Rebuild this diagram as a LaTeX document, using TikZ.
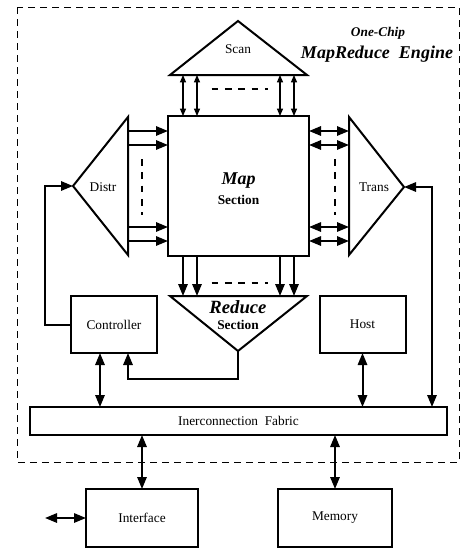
\documentclass[tikz,border=0pt]{standalone}
\usepackage{fontspec}
\setmainfont{Liberation Serif}
\usetikzlibrary{calc,arrows.meta}
\newcommand{\lineW}{1.5pt}
\newcommand{\bigBI}{\fontsize{13.5}{15}\selectfont\bfseries\itshape}

\begin{document}
\begin{tikzpicture}[x=0.75pt,y=-0.75pt,inner sep=0pt,outer sep=0pt,
		blk/.style={draw,line width=\lineW},
		bus/.style={line width=\lineW,-{Triangle[length=9pt,width=7pt]}},
		bus2/.style={line width=\lineW,{Triangle[length=9pt,width=7pt]}-{Triangle[length=9pt,width=7pt]}},
		thin2/.style={line width=0.8pt,{Triangle[length=5.5pt,width=4.5pt]}-{Triangle[length=5.5pt,width=4.5pt]}},
		gap/.style={line width=0.8pt,dash pattern=on 5pt off 5pt}]
	\useasboundingbox (0,0) rectangle (461,550);
	\draw[line width=0.7pt,dash pattern=on 5pt off 4pt] (17,7) rectangle (459,462);
	
	\node[font=\bfseries\itshape] (chip) at (378,33) {One-Chip};
	\node[font=\bigBI] (eng) at (377,54) {MapReduce~~Engine};
	
	% map section and the four triangles
	\node[blk,minimum width=105.75pt,minimum height=105pt] (map) at (238.5,186) {};
	\node[font=\bigBI] (mapL) at (238.5,181) {Map};
	\node[font=\bfseries] (mapS) at (238.5,200) {Section};
	
	\coordinate (scanL) at (170,75);
	\coordinate (scanR) at (307,75);
	\coordinate (scanA) at (238,21);
	\draw[blk,line join=miter] (scanL) -- (scanA) -- (scanR) -- cycle;
	\node (scan) at (238,49) {Scan};
	
	\coordinate (distrT) at (128,117);
	\coordinate (distrB) at (128,255);
	\coordinate (distrA) at (73,186);
	\draw[blk] (distrT) -- (distrA) -- (distrB) -- cycle;
	\node (distr) at (103,187) {Distr};
	
	\coordinate (transT) at (349,117);
	\coordinate (transB) at (349,255);
	\coordinate (transA) at (404,187);
	\draw[blk] (transT) -- (transA) -- (transB) -- cycle;
	\node (trans) at (374,187) {Trans};
	
	\coordinate (redL) at (170,296);
	\coordinate (redR) at (307,296);
	\coordinate (redA) at (238,351);
	\draw[blk] (redL) -- (redR) -- (redA) -- cycle;
	\node[font=\fontsize{14}{16}\selectfont\bfseries\itshape] (redL2) at (238,307) {Reduce};
	\node[font=\bfseries] (redS) at (238,325) {Section};
	
	\foreach \d in {15,29}{
		\coordinate (tl) at ($(map.north west)+(\d,0)$);
		\coordinate (tr) at ($(map.north east)+(-\d,0)$);
		\draw[thin2] (tl) -- (tl |- scanL);
		\draw[thin2] (tr) -- (tr |- scanL);
		\coordinate (bl) at ($(map.south west)+(\d,0)$);
		\coordinate (br) at ($(map.south east)+(-\d,0)$);
		\draw[bus] (bl) -- (bl |- redL);
		\draw[bus] (br) -- (br |- redL);
		\coordinate (lt) at ($(map.north west)+(0,\d)$);
		\coordinate (lb) at ($(map.south west)+(0,-\d)$);
		\draw[bus] (lt -| distrT) -- (lt);
		\draw[bus] (lb -| distrT) -- (lb);
		\coordinate (rt) at ($(map.north east)+(0,\d)$);
		\coordinate (rb) at ($(map.south east)+(0,-\d)$);
		\draw[bus2] (rt) -- (rt -| transT);
		\draw[bus2] (rb) -- (rb -| transT);
	}
	\draw[gap] ($(map.north)+(-27,-27)$) -- ($(map.north)+(29,-27)$);
	\draw[gap] ($(map.south)+(-27,27)$) -- ($(map.south)+(29,27)$);
	\draw[gap] ($(map.west)+(-26,-27)$) -- ($(map.west)+(-26,29)$);
	\draw[gap] ($(map.east)+(26,-27)$) -- ($(map.east)+(26,29)$);
	
	% lower blocks
	\node[blk,minimum width=64.5pt,minimum height=42.75pt] (ctrl) at (114,324.5) {Controller};
	\node[blk,minimum width=64.5pt,minimum height=42.75pt] (host) at (362.5,324.5) {Host};
	\node[blk,minimum width=312.75pt,minimum height=21pt] (fab) at (238.5,421) {Inerconnection~~Fabric};
	\node[blk,minimum width=84pt,minimum height=43.5pt] (intf) at (142,518) {Interface};
	\node[blk,minimum width=85.5pt,minimum height=43.5pt] (mem) at (335,518) {Memory};
	
	\draw[bus] (ctrl.west) -- ++(-26,0) |- (distrA);
	\draw[bus] (redA) |- ($(ctrl.south)+(14,26)$) -- ($(ctrl.south)+(14,0)$);
	\draw[bus2] (transA) -| ($(fab.north east)+(-15,0)$);
	\coordinate (c1) at ($(ctrl.south)+(-14,0)$);
	\draw[bus2] (c1) -- (c1 |- fab.north);
	\draw[bus2] (host.south) -- (host.south |- fab.north);
	\draw[bus2] (fab.south -| intf.north) -- (intf.north);
	\draw[bus2] (fab.south -| mem.north) -- (mem.north);
	\coordinate (ext) at (45,518);
	\draw[bus2] (ext) -- (intf.west);
	%\node at (ext) {};
\end{tikzpicture}
\end{document}
